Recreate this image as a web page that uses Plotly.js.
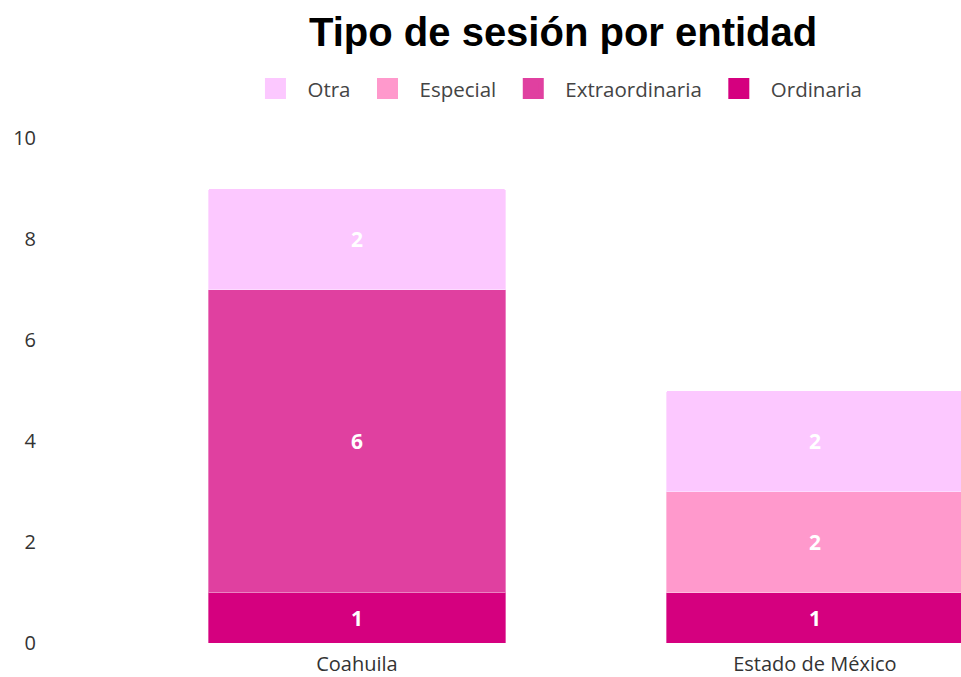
<!DOCTYPE html>
<html>
<head>
<meta charset="utf-8">
<script src="https://cdn.plot.ly/plotly-3.0.1.min.js"></script>
<style>html,body{margin:0;padding:0;background:#fff;}#chart{width:961px;height:677px;}</style>
</head>
<body>
<div id="chart"></div>
<script>
const entidades = ["Coahuila", "Estado de México"];
const ordinaria = [1, 1];
const extraordinaria = [6, null];
const especial = [null, 2];
const otra = [2, 2];
const yTicks = [0, 2, 4, 6, 8, 10];

const series = [
  {name: "Ordinaria", values: ordinaria, color: "#D5007F"},
  {name: "Extraordinaria", values: extraordinaria, color: "#E040A0"},
  {name: "Especial", values: especial, color: "#FF99CC"},
  {name: "Otra", values: otra, color: "#FCC8FF"}
];

const barTraces = series.map(s => ({
  type: "bar",
  name: s.name,
  legendgroup: s.name,
  showlegend: false,
  x: entidades,
  y: s.values,
  width: 0.65,
  marker: {color: s.color, line: {color: "rgba(255,255,255,0.35)", width: 1}},
  text: s.values.map(v => v == null ? "" : String(v)),
  texttemplate: "%{text}",
  textposition: "inside",
  insidetextanchor: "middle",
  textangle: 0,
  textfont: {family: "Open Sans, sans-serif", size: 21, color: "#ffffff", weight: 700},
  hoverinfo: "name+y"
}));

// legend-only entries (bigger square swatches like the reference)
const legendTraces = series.map(s => ({
  type: "scatter",
  mode: "markers",
  name: s.name,
  legendgroup: s.name,
  showlegend: true,
  x: [entidades[0]],
  y: [null],
  marker: {symbol: "square", size: 16, color: s.color, line: {color: s.color, width: 5}},
  hoverinfo: "skip"
}));

const layout = {
  width: 961,
  height: 677,
  margin: {l: 45, r: 0, t: 138, b: 34},
  paper_bgcolor: "#ffffff",
  plot_bgcolor: "#ffffff",
  barmode: "stack",
  barcornerradius: 3,
  title: {
    text: "<b>Tipo de sesión por entidad</b>",
    font: {family: "Liberation Sans, Arial, sans-serif", size: 40, color: "#000000"},
    xref: "container", x: 0.586, xanchor: "center",
    yref: "container", y: 0.953, yanchor: "middle"
  },
  legend: {
    orientation: "h",
    traceorder: "reversed",
    xref: "container", x: 0.578, xanchor: "center",
    yref: "container", y: 0.869, yanchor: "middle",
    font: {family: "Open Sans, sans-serif", size: 20.5, color: "#444444"},
    itemwidth: 54,
    itemsizing: "trace"
  },
  xaxis: {
    type: "category",
    range: [-0.681, 1.319],
    showgrid: false, zeroline: false, showline: false,
    ticks: "",
    ticklabelstandoff: 7,
    tickfont: {family: "Open Sans, sans-serif", size: 20, color: "#333333"},
    fixedrange: true
  },
  yaxis: {
    range: [0, 10],
    tickvals: yTicks,
    ticktext: yTicks.map(String),
    showgrid: false, zeroline: false, showline: false,
    ticks: "",
    ticklabelstandoff: 8,
    tickfont: {family: "Open Sans, sans-serif", size: 20, color: "#333333"},
    fixedrange: true
  },
  showlegend: true
};

Plotly.newPlot("chart", barTraces.concat(legendTraces), layout, {displayModeBar: false, staticPlot: true});
</script>
</body>
</html>
